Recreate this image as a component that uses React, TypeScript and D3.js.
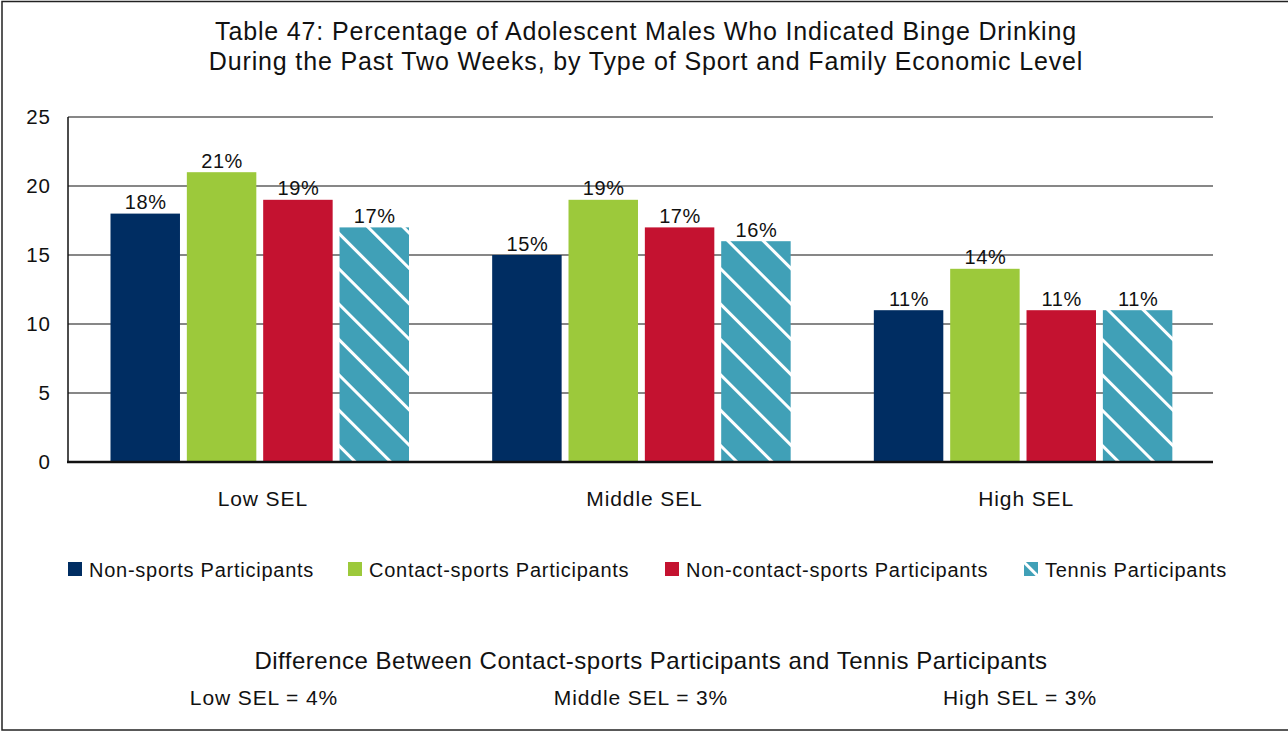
import React from "react";
import * as d3 from "d3";

const categories = ["Low SEL", "Middle SEL", "High SEL"];
const seriesNames = [
  "Non-sports Participants",
  "Contact-sports Participants",
  "Non-contact-sports Participants",
  "Tennis Participants",
];
const nonSports = [18, 15, 11];
const contactSports = [21, 19, 14];
const nonContactSports = [19, 17, 11];
const tennis = [17, 16, 11];
const yTicks = [0, 5, 10, 15, 20, 25];
const titleLines = [
  "Table 47: Percentage of Adolescent Males Who Indicated Binge Drinking",
  "During the Past Two Weeks, by Type of Sport and Family Economic Level",
];
const footerTitle = "Difference Between Contact-sports Participants and Tennis Participants";
const footerItems = ["Low SEL = 4%", "Middle SEL = 3%", "High SEL = 3%"];

const colors = ["#002d62", "#9cc93b", "#c41230", "url(#hatch)"];
const FONT = "'Liberation Sans', Arial, Helvetica, sans-serif";

export default function App() {
  const W = 1288;
  const H = 732;
  const left = 68;
  const right = 1213;
  const top = 117;
  const bottom = 462;

  const seriesValues = [nonSports, contactSports, nonContactSports, tennis];

  const x0 = d3.scaleBand<string>().domain(categories).range([left, right]).paddingInner(0).paddingOuter(0);
  const x1 = d3
    .scaleBand<string>()
    .domain(seriesNames)
    .range([42.5, 341])
    .paddingInner(0.09)
    .paddingOuter(0);
  const y = d3.scaleLinear().domain([0, 25]).range([bottom, top]);

  const legendX = [68, 348, 665, 1024];
  const footerX = [264, 641, 1020];

  return (
    <div style={{ position: "fixed", left: 0, top: 0, width: W, height: H, background: "#fff" }}>
      <svg width={W} height={H} style={{ display: "block", fontFamily: FONT }}>
        <defs>
          <pattern
            id="hatch"
            patternUnits="userSpaceOnUse"
            width={25}
            height={25}
            patternTransform="rotate(-45)"
          >
            <rect x={0} y={0} width={25} height={25} fill="#40a0b7" />
            <line x1={1.5} y1={0} x2={1.5} y2={25} stroke="#ffffff" strokeWidth={3} />
          </pattern>
        </defs>
        <rect x={0} y={0} width={W} height={H} fill="#fff" />
        <rect x={2} y={1.5} width={W + 10} height={728.5} fill="none" stroke="#222" strokeWidth={1.5} />

        {titleLines.map((t, i) => (
          <text
            key={i}
            x={646}
            y={40 + i * 30}
            textAnchor="middle"
            fontSize={25}
            letterSpacing={0.85}
            fill="#111"
          >
            {t}
          </text>
        ))}

        {yTicks.filter((t) => t > 0).map((t) => (
          <line key={t} x1={left} x2={right} y1={y(t)} y2={y(t)} stroke="#111" strokeWidth={1.2} />
        ))}
        {yTicks.map((t) => (
          <text key={t} x={51} y={y(t) + 7} textAnchor="end" fontSize={20.5} letterSpacing={1} fill="#111">
            {t}
          </text>
        ))}

        {categories.map((c, ci) => (
          <g key={c} transform={`translate(${x0(c)},0)`}>
            {seriesNames.map((s, si) => {
              const v = seriesValues[si][ci];
              const bx = x1(s)!;
              const bw = x1.bandwidth();
              return (
                <g key={s}>
                  <rect x={bx} y={y(v)} width={bw} height={y(0) - y(v)} fill={colors[si]} />
                  <text
                    x={bx + bw / 2 + 0.5}
                    y={y(v) - 4.5}
                    textAnchor="middle"
                    fontSize={20}
                    letterSpacing={0.6}
                    fill="#111"
                  >
                    {v}%
                  </text>
                </g>
              );
            })}
            <text
              x={x0.bandwidth() / 2 + 4}
              y={506}
              textAnchor="middle"
              fontSize={21}
              letterSpacing={0.9}
              fill="#111"
            >
              {c}
            </text>
          </g>
        ))}

        <line x1={left} x2={left} y1={top} y2={bottom} stroke="#111" strokeWidth={1.5} />
        <line x1={left - 1} x2={right} y1={bottom} y2={bottom} stroke="#111" strokeWidth={2.5} />

        {seriesNames.map((s, i) => (
          <g key={s}>
            <rect x={legendX[i]} y={562} width={14} height={14} fill={colors[i]} />
            <text x={legendX[i] + 21} y={576.5} fontSize={20} letterSpacing={0.75} fill="#111">
              {s}
            </text>
          </g>
        ))}

        <text x={651} y={669} textAnchor="middle" fontSize={24} letterSpacing={0.5} fill="#111">
          {footerTitle}
        </text>
        {footerItems.map((f, i) => (
          <text key={f} x={footerX[i]} y={705} textAnchor="middle" fontSize={21} letterSpacing={0.9} fill="#111">
            {f}
          </text>
        ))}
      </svg>
    </div>
  );
}
